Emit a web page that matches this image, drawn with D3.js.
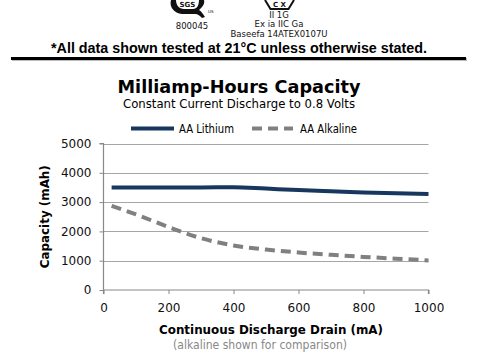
<!DOCTYPE html>
<html><head><meta charset="utf-8">
<script src="https://cdn.jsdelivr.net/npm/d3@7"></script>
<style>
html,body{margin:0;padding:0;background:#fff;}
svg{display:block;font-family:"DejaVu Sans",Verdana,sans-serif;}
</style></head>
<body>
<script>
// ---- data ----
const drainMA = [25, 100, 200, 300, 400, 500, 600, 700, 800, 900, 1000];
const lithium = [3500, 3500, 3500, 3500, 3510, 3460, 3410, 3370, 3330, 3300, 3280];
const alkaline = [2870, 2580, 2150, 1770, 1520, 1380, 1280, 1200, 1130, 1070, 1010];
const seriesNames = ["AA Lithium", "AA Alkaline"];
const xTicks = [0, 200, 400, 600, 800, 1000];
const yTicks = [0, 1000, 2000, 3000, 4000, 5000];

const W = 489, H = 358;
const svg = d3.select("body").append("svg").attr("width", W).attr("height", H);

// ---- header ----
const hdr = svg.append("g");
// SGS logo (partially cropped at top)
hdr.append("path")
  .attr("d", "M171,0 C169,7 174,13 182,14 L195,14 C198,14 200,16 202,18 L205,17 C203,14 201,11 199,10 C203,7 205,3 204,0 Z")
  .attr("fill", "#111");
hdr.append("path")
  .attr("d", "M176,0 C176,5 179,9 184,9 L193,9 C197,9 199,5 199,0 Z")
  .attr("fill", "#fff");
hdr.append("text").attr("x", 187.5).attr("y", 7).attr("text-anchor", "middle")
  .attr("font-size", 7).attr("font-weight", "bold").attr("fill", "#111").text("SGS");
hdr.append("text").attr("x", 208).attr("y", 13).attr("font-size", 4).attr("fill", "#111").text("US");
hdr.append("text").attr("x", 192).attr("y", 29).attr("text-anchor", "middle")
  .attr("font-size", 8.5).attr("fill", "#111").text("800045");
// Ex logo (hexagon, cropped)
hdr.append("path").attr("d", "M265,0 L270.5,9 L288.5,9 L294,0")
  .attr("fill", "none").attr("stroke", "#111").attr("stroke-width", 2);
hdr.append("text").attr("x", 279.5).attr("y", 6.5).attr("text-anchor", "middle")
  .attr("font-size", 7).attr("font-weight", "bold").attr("fill", "#111").text("C X");
[["II 1G", 18], ["Ex ia IIC Ga", 27], ["Baseefa 14ATEX0107U", 36.5]].forEach(([t, y]) => {
  hdr.append("text").attr("x", 279).attr("y", y).attr("text-anchor", "middle")
    .attr("font-size", 8.5).attr("fill", "#111").text(t);
});
hdr.append("text").attr("x", 239).attr("y", 52.5).attr("text-anchor", "middle")
  .attr("font-family", "'Liberation Sans',Arial,sans-serif")
  .attr("font-size", 15.5).attr("font-weight", "bold").attr("fill", "#000")
  .attr("textLength", 376).attr("lengthAdjust", "spacingAndGlyphs")
  .text("*All data shown tested at 21°C unless otherwise stated.");
hdr.append("rect").attr("x", 12).attr("y", 58).attr("width", 455).attr("height", 3).attr("fill", "#bbb");
hdr.append("rect").attr("x", 11).attr("y", 57).attr("width", 455).attr("height", 3).attr("fill", "#000");

// ---- titles ----
svg.append("text").attr("x", 239).attr("y", 93).attr("text-anchor", "middle")
  .attr("font-size", 18.5).attr("font-weight", "bold").attr("fill", "#000")
  .attr("textLength", 243).attr("lengthAdjust", "spacingAndGlyphs")
  .text("Milliamp-Hours Capacity");
svg.append("text").attr("x", 239).attr("y", 107.5).attr("text-anchor", "middle")
  .attr("font-size", 12).attr("fill", "#000")
  .attr("textLength", 232).attr("lengthAdjust", "spacingAndGlyphs")
  .text("Constant Current Discharge to 0.8 Volts");

// ---- scales ----
const x = d3.scaleLinear().domain([0, 1000]).range([103.5, 428.5]);
const y = d3.scaleLinear().domain([0, 5000]).range([290, 143.5]);

const colors = ["#17375E", "#808080"];
const dashes = [null, "10,6"];

// ---- legend ----
const leg = svg.append("g");
const legX = [[131, 174, 179], [252, 293, 300]];
const legW = [55, 57];
seriesNames.forEach((n, i) => {
  leg.append("line").attr("x1", legX[i][0]).attr("x2", legX[i][1]).attr("y1", 128.5).attr("y2", 128.5)
    .attr("stroke", colors[i]).attr("stroke-width", 4).attr("stroke-dasharray", dashes[i]);
  leg.append("text").attr("x", legX[i][2]).attr("y", 133).attr("font-size", 12).attr("fill", "#000")
    .attr("textLength", legW[i]).attr("lengthAdjust", "spacingAndGlyphs").text(n);
});

// ---- grid ----
svg.append("g").selectAll("line").data(yTicks.filter(d => d > 0)).join("line")
  .attr("x1", x(0)).attr("x2", x(1000)).attr("y1", d => Math.round(y(d)) + 0.5).attr("y2", d => Math.round(y(d)) + 0.5)
  .attr("stroke", "#a6a6a6").attr("stroke-width", 1);

// ---- axes ----
const yAxis = svg.append("g").attr("transform", `translate(${x(0)},0)`)
  .call(d3.axisLeft(y).tickValues(yTicks).tickSize(4).tickPadding(8).tickFormat(d3.format("d")));
const xAxis = svg.append("g").attr("transform", `translate(0,${y(0)})`)
  .call(d3.axisBottom(x).tickValues(xTicks).tickSize(4).tickPadding(9).tickFormat(d3.format("d")));
[yAxis, xAxis].forEach(a => {
  a.select(".domain").attr("stroke", "#888").attr("stroke-width", 1.2);
  a.selectAll(".tick line").attr("stroke", "#888");
  a.selectAll(".tick text").attr("font-size", 12).attr("fill", "#111")
    .attr("font-family", "'DejaVu Sans',Verdana,sans-serif");
});
yAxis.select(".domain").attr("d", `M-4,${y(5000)}H0V${y(0) + 4}`);
xAxis.select(".domain").attr("d", `M${x(0)},0H${x(1000)}V4`);

// ---- lines ----
const line = d3.line().x(d => x(d[0])).y(d => y(d[1])).curve(d3.curveMonotoneX);
[lithium, alkaline].forEach((vals, i) => {
  svg.append("path").datum(drainMA.map((d, j) => [d, vals[j]]))
    .attr("d", line).attr("fill", "none").attr("stroke", colors[i]).attr("stroke-width", 4)
    .attr("stroke-dasharray", dashes[i]);
});

// ---- axis titles ----
svg.append("text").attr("transform", `translate(49,${(y(0) + y(5000)) / 2}) rotate(-90)`)
  .attr("text-anchor", "middle").attr("font-size", 13).attr("font-weight", "bold").attr("fill", "#000")
  .attr("textLength", 103).attr("lengthAdjust", "spacingAndGlyphs")
  .text("Capacity (mAh)");
svg.append("text").attr("x", 271).attr("y", 334).attr("text-anchor", "middle")
  .attr("font-size", 13).attr("font-weight", "bold").attr("fill", "#000")
  .attr("textLength", 224).attr("lengthAdjust", "spacingAndGlyphs")
  .text("Continuous Discharge Drain (mA)");
svg.append("text").attr("x", 260).attr("y", 349).attr("text-anchor", "middle")
  .attr("font-size", 11.5).attr("fill", "#888")
  .attr("textLength", 174).attr("lengthAdjust", "spacingAndGlyphs")
  .text("(alkaline shown for comparison)");
</script>
</body></html>
